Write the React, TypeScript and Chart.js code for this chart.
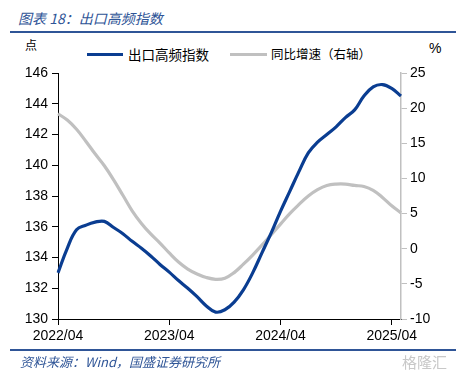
import React, { useEffect, useRef } from "react";
import { Chart, registerables } from "chart.js";

Chart.register(...registerables);

const months: string[] = [
  "2022/04","2022/05","2022/06","2022/07","2022/08","2022/09","2022/10","2022/11","2022/12",
  "2023/01","2023/02","2023/03","2023/04","2023/05","2023/06","2023/07","2023/08","2023/09",
  "2023/10","2023/11","2023/12","2024/01","2024/02","2024/03","2024/04","2024/05","2024/06",
  "2024/07","2024/08","2024/09","2024/10","2024/11","2024/12","2025/01","2025/02","2025/03",
  "2025/04","2025/05",
];

const exportIndex: number[] = [
  133.0, 134.6, 135.8, 136.1, 136.3, 136.35, 135.95, 135.55, 135.05, 134.6,
  134.1, 133.55, 133.05, 132.5, 132.0, 131.45, 130.85, 130.45, 130.6, 131.1,
  131.9, 133.0, 134.3, 135.6, 137.0, 138.3, 139.6, 140.8, 141.5, 142.0,
  142.5, 143.1, 143.6, 144.5, 145.1, 145.25, 145.0, 144.5,
];

const yoyGrowth: number[] = [
  19.2, 18.3, 17.0, 15.3, 13.5, 11.8, 9.8, 7.6, 5.4, 3.6,
  2.1, 0.8, -0.6, -1.9, -2.9, -3.6, -4.1, -4.35, -4.2, -3.4,
  -2.2, -0.9, 0.5, 2.0, 3.5, 5.0, 6.3, 7.5, 8.4, 9.0,
  9.2, 9.2, 9.0, 8.85, 8.3, 7.3, 6.1, 5.1,
];

const shownTickLabels: string[] = ["2022/04", "2023/04", "2024/04", "2025/04"];

const seriesNames: string[] = ["出口高频指数", "同比增速（右轴）"];

const BLUE = "#0A3D91";
const GRAY = "#C0C0C0";
const HEAD = "#2F5597";
const tickFont = { family: "'Liberation Sans', Arial, sans-serif", size: 14 };
const cjk = "'Noto Sans CJK SC', sans-serif";

export default function App() {
  const ref = useRef<HTMLCanvasElement | null>(null);

  useEffect(() => {
    if (!ref.current) return;
    const chart = new Chart(ref.current, {
      type: "line",
      data: {
        labels: months,
        datasets: [
          {
            label: seriesNames[0],
            data: exportIndex,
            borderColor: BLUE,
            borderWidth: 3.2,
            pointRadius: 0,
            tension: 0.4,
            yAxisID: "y",
          },
          {
            label: seriesNames[1],
            data: yoyGrowth,
            borderColor: GRAY,
            borderWidth: 3.2,
            pointRadius: 0,
            tension: 0.4,
            yAxisID: "y1",
          },
        ],
      },
      options: {
        animation: false,
        responsive: false,
        devicePixelRatio: 1,
        layout: { padding: { top: 73, left: 0, right: 0, bottom: 0 } },
        plugins: { legend: { display: false }, tooltip: { enabled: false }, title: { display: false } },
        scales: {
          x: {
            type: "category",
            offset: false,
            afterFit: (s: any) => { s.height = 61; },
            border: { color: "#000", width: 1 },
            grid: {
              drawOnChartArea: false,
              drawTicks: true,
              tickLength: 6,
              color: (ctx: any) => (shownTickLabels.includes(months[ctx.index]) ? "#000" : "rgba(0,0,0,0)"),
            },
            ticks: {
              autoSkip: false,
              maxRotation: 0,
              color: "#000",
              font: tickFont,
              padding: 3,
              callback: (v: any, i: number) => (shownTickLabels.includes(months[i]) ? months[i] : ""),
            },
          },
          y: {
            position: "left",
            min: 130,
            max: 146,
            afterFit: (s: any) => { s.width = 58; },
            border: { color: "#000", width: 1 },
            grid: { drawOnChartArea: false, drawTicks: true, tickLength: 6, color: "#000" },
            ticks: { stepSize: 2, color: "#000", font: tickFont, padding: 4 },
          },
          y1: {
            position: "right",
            min: -10,
            max: 25,
            afterFit: (s: any) => { s.width = 61; },
            border: { color: GRAY, width: 1.5 },
            grid: { drawOnChartArea: false, drawTicks: true, tickLength: 6, color: GRAY },
            ticks: { stepSize: 5, color: "#000", font: tickFont, padding: 3 },
          },
        },
      },
    });
    return () => chart.destroy();
  }, []);

  const abs = (o: React.CSSProperties): React.CSSProperties => ({ position: "absolute", whiteSpace: "nowrap", ...o });

  return (
    <div style={{ position: "absolute", left: 0, top: 0, width: 462, height: 380, background: "#fff", overflow: "hidden" }}>
      <div style={abs({ left: 18, top: 8, fontFamily: cjk, fontStyle: "italic", fontSize: 14, color: HEAD, lineHeight: "20px" })}>
        图表 18：出口高频指数
      </div>
      <div style={abs({ left: 10, top: 31, width: 446, height: 2, background: HEAD })} />
      <div style={abs({ left: 25, top: 37, fontFamily: cjk, fontSize: 12, color: "#000", lineHeight: "16px" })}>点</div>
      <div style={abs({ left: 429, top: 40, fontFamily: "'Liberation Sans', Arial", fontSize: 14, color: "#000", lineHeight: "16px" })}>%</div>
      <div style={abs({ left: 87, top: 53, width: 36, height: 3, background: BLUE })} />
      <div style={abs({ left: 128, top: 45, fontFamily: cjk, fontSize: 13.5, color: "#000", lineHeight: "18px" })}>{seriesNames[0]}</div>
      <div style={abs({ left: 230, top: 53, width: 37, height: 3, background: GRAY })} />
      <div style={abs({ left: 271, top: 45, fontFamily: cjk, fontSize: 12.5, color: "#000", lineHeight: "18px" })}>{seriesNames[1]}</div>
      <canvas ref={ref} width={462} height={380} style={{ position: "absolute", left: 0, top: 0, width: 462, height: 380 }} />
      <div style={abs({ left: 10, top: 349, width: 446, height: 2, background: HEAD })} />
      <div style={abs({ left: 20, top: 353, fontFamily: cjk, fontStyle: "italic", fontSize: 13, color: HEAD, lineHeight: "18px" })}>
        资料来源：Wind，国盛证券研究所
      </div>
      <div style={abs({ left: 402, top: 352, fontFamily: cjk, fontSize: 15, color: "#C8C8C8", lineHeight: "20px" })}>格隆汇</div>
    </div>
  );
}
